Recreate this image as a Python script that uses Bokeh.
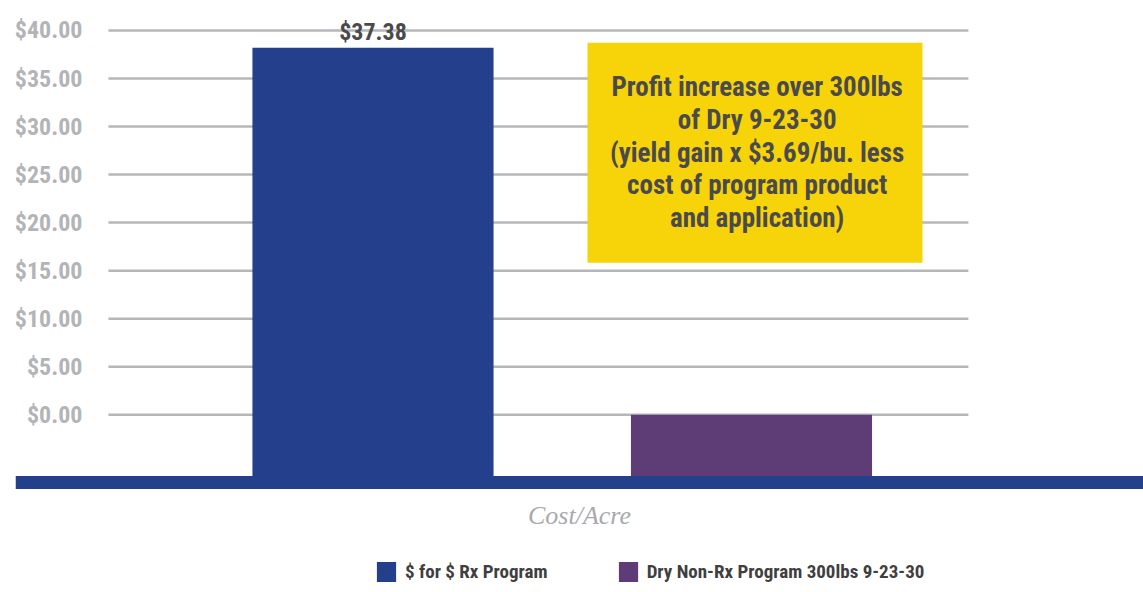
from bokeh.plotting import figure
from bokeh.models import (Range1d, FixedTicker, NumeralTickFormatter, ColumnDataSource,
                          Legend, LegendItem)
from bokeh.core.properties import value
from bokeh.embed import file_html
from bokeh.resources import INLINE

# ---- data ----
categories = ["$ for $ Rx Program", "Dry Non-Rx Program 300lbs 9-23-30"]
bar_values = [38.2, 0.0]
bar_labels = ["$37.38", ""]
bar_colors = ["#243f8c", "#5e3c75"]
y_ticks = [0, 5, 10, 15, 20, 25, 30, 35, 40]
note_text = ("Profit increase over 300lbs\nof Dry 9-23-30\n(yield gain x $3.69/bu. less\n"
             "cost of program product\nand application)")
x_title = "Cost/Acre"

# ---- styles ----
FONT = "Roboto Condensed"
TICK_GRAY = "#b3b4b8"
GRID_GRAY = "#b6b7bb"
DARK = "#4a4a4c"
YELLOW = "#f7d30a"
AXIS_BASE = -7.03          # where the thick category axis crosses
GRID_X0, GRID_X1 = -0.699, 1.573

xs = list(range(len(categories)))

p = figure(width=1143, height=592, output_backend="svg", toolbar_location=None,
           x_range=Range1d(-0.9445, 2.0357), y_range=Range1d(-18.50, 43.12),
           min_border_left=15, min_border_right=0, min_border_top=0, min_border_bottom=0)
p.outline_line_color = None
p.grid.visible = False
p.background_fill_color = "white"

# gridlines (only over the plot area)
p.segment(x0=[GRID_X0] * len(y_ticks), x1=[GRID_X1] * len(y_ticks), y0=y_ticks, y1=y_ticks,
          line_color=GRID_GRAY, line_width=2.5)

# bars
src = ColumnDataSource(dict(x=xs, top=bar_values, color=bar_colors, cat=categories))
bars = p.vbar(x="x", top="top", bottom=AXIS_BASE, width=0.637, fill_color="color",
              line_color=None, source=src)

# value label
lab_x = [xs[i] for i in range(len(xs)) if bar_labels[i]]
lab_y = [bar_values[i] for i in range(len(xs)) if bar_labels[i]]
lab_t = [t for t in bar_labels if t]
p.text(x=lab_x, y=lab_y, text=lab_t, text_align="center", text_baseline="bottom",
       y_offset=-2, text_font=value(FONT), text_font_style="bold", text_font_size="24px",
       text_color=DARK)

# note box
p.quad(left=[0.5667], right=[1.4518], top=[38.71], bottom=[15.83], fill_color=YELLOW,
       line_color=None)
p.text(x=[1.015], y=[27.29], text=[note_text], text_align="center", text_baseline="middle",
       text_line_height=1.02, text_font=value(FONT), text_font_style="bold",
       text_font_size="27px", text_color=DARK)

# y axis
ya = p.yaxis[0]
ya.fixed_location = GRID_X0
ya.ticker = FixedTicker(ticks=y_ticks)
ya.formatter = NumeralTickFormatter(format="$0.00")
ya.axis_line_color = None
ya.major_tick_line_color = None
ya.minor_tick_line_color = None
ya.major_tick_out = 0
ya.major_tick_in = 0
ya.minor_tick_out = 0
ya.minor_tick_in = 0
ya.major_label_standoff = 26
ya.major_label_text_font = FONT
ya.major_label_text_font_style = "bold"
ya.major_label_text_font_size = "24px"
ya.major_label_text_color = TICK_GRAY

# x axis (thick blue line)
xa = p.xaxis[0]
xa.fixed_location = AXIS_BASE
xa.ticker = FixedTicker(ticks=[])
xa.axis_line_color = bar_colors[0]
xa.axis_line_width = 13
xa.major_tick_line_color = None
xa.minor_tick_line_color = None
xa.major_tick_out = 0
xa.major_tick_in = 0
xa.minor_tick_out = 0
xa.minor_tick_in = 0
xa.major_label_text_font_size = "0px"
xa.axis_label = x_title
xa.axis_label_standoff = 18
xa.axis_label_text_font = "Liberation Serif"
xa.axis_label_text_font_style = "italic"
xa.axis_label_text_font_size = "26px"
xa.axis_label_text_color = "#a8a9ad"

# legend
legend = Legend(items=[LegendItem(label=value(c), renderers=[bars], index=i)
                       for i, c in enumerate(categories)],
                orientation="horizontal", location=(359, 8), padding=0, margin=0,
                spacing=68, label_standoff=7, glyph_width=24, glyph_height=25,
                label_text_font=FONT, label_text_font_style="bold",
                label_text_font_size="19px", label_text_color="#3f3f41",
                border_line_color=None, background_fill_alpha=0)
p.add_layout(legend)

open("out.html", "w").write(file_html(p, INLINE))
